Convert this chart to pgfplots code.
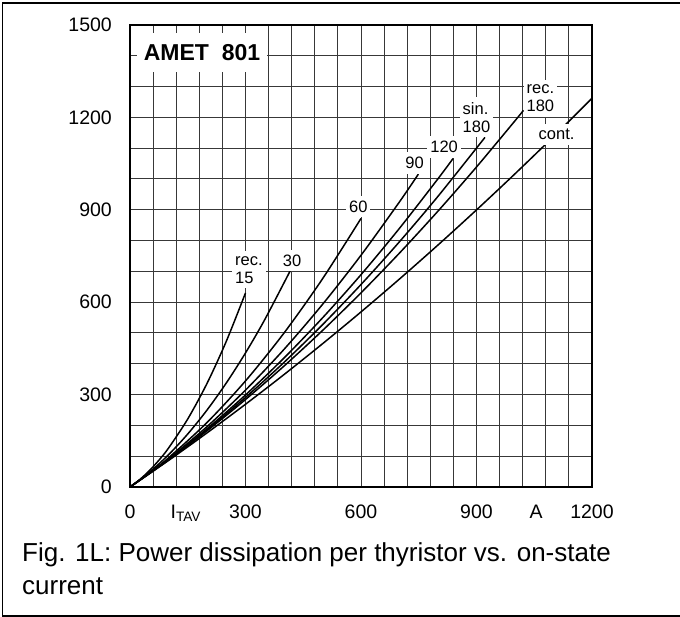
\documentclass[border=0pt]{standalone}
\usepackage{fontspec}
\setmainfont{Liberation Sans}
\usepackage{pgfplots}
\pgfplotsset{compat=1.18}
\begin{document}
\begin{tikzpicture}[
  curve/.style={black, line width=1.5pt, smooth, mark=none},
  lbl/.style={fill=white, inner xsep=3pt, inner ysep=5pt, align=left, font=\fontsize{16.5}{18}\selectfont},
]
\path[use as bounding box] (0pt,0pt) rectangle (680pt,617pt);
\draw[line width=1.5pt] (681pt,614pt) -- (2.5pt,614pt) -- (2.5pt,1pt) -- (681pt,1pt);
\begin{axis}[
  at={(130pt,130pt)}, anchor=south west,
  scale only axis, width=462pt, height=462pt,
  xmin=0, xmax=1200, ymin=0, ymax=1500,
  xtick={0,300,...,1200}, ytick={0,300,...,1500},
  minor x tick num=4, minor y tick num=2,
  grid=both,
  major grid style={line width=1pt, draw=black!78},
  minor grid style={line width=1pt, draw=black!78},
  major tick length=0pt, minor tick length=0pt,
  axis line style={line width=1.8pt},
  tick label style={font=\fontsize{19.5}{21}\selectfont, inner sep=0pt},
  yticklabel style={xshift=-18pt},
  xticklabel style={yshift=-17.5pt},
  /pgf/number format/assume math mode=true,
  /pgf/number format/1000 sep={},
  extra x ticks={145,1055},
  extra x tick labels={I\textsubscript{TAV},A},
  extra x tick style={grid=none},
]
% cont.
\addplot[curve] coordinates {(0,0) (100,86.0) (200,175.6) (300,268.6) (400,365.0) (500,465.0) (600,568.4) (700,675.3) (800,785.7) (900,899.6) (1000,1016.9) (1100,1137.7) (1200,1262.0)};
% rec. 180
\addplot[curve] coordinates {(0,0) (100,87.8) (200,182.4) (300,284.0) (400,392.6) (500,508.0) (600,630.4) (700,759.6) (800,895.8) (900,1039.0) (1000,1189.0) (1022,1222.9)};
% sin. 180
\addplot[curve] coordinates {(0,0) (100,88.5) (200,185.4) (300,290.8) (400,404.6) (500,526.8) (600,657.4) (700,796.4) (800,943.8) (922,1135.1)};
% 120
\addplot[curve] coordinates {(0,0) (100,89.4) (200,189.0) (300,298.8) (400,418.8) (500,549.0) (600,689.4) (700,840.0) (800,1000.8) (839,1066.3)};
% 90
\addplot[curve] coordinates {(0,0) (100,91.2) (200,196.0) (300,314.6) (400,446.8) (500,592.8) (600,752.4) (700,925.8) (749,1015.7)};
% 60
\addplot[curve] coordinates {(0,0) (50,44.7) (100,94.5) (200,209.3) (300,344.4) (400,499.9) (500,675.8) (600,871.9)};
% 30
\addplot[curve] coordinates {(0,0) (50,47.3) (100,104.6) (150,172.1) (200,249.7) (250,337.5) (300,435.3) (350,543.4) (417,704.0)};
% rec. 15
\addplot[curve] coordinates {(0,0) (25,23.7) (50,52.7) (75,86.8) (100,126.2) (150,220.8) (200,336.2) (250,472.7) (300,630.0)};

\node[lbl] at (axis cs:309,705) {rec.\\15};
\node[lbl] at (axis cs:421,735) {30};
\node[lbl] at (axis cs:593,911) {60};
\node[lbl] at (axis cs:739,1052) {90};
\node[lbl] at (axis cs:816,1104) {120};
\node[lbl] at (axis cs:900,1200) {sin.\\180};
\node[lbl] at (axis cs:1066,1262) {rec.\\180};
\node[lbl] at (axis cs:1108,1145) {cont.};
\node[fill=white, inner sep=0pt, minimum width=130pt, minimum height=39pt, font=\fontsize{23}{25}\selectfont\bfseries] at (axis cs:187,1411) {AMET\ \ 801};
\node[anchor=base, xshift=-37pt, font=\fontsize{19.5}{21}\selectfont, inner sep=0pt] at (axis cs:0,1278) {W};
\node[anchor=base, xshift=-31pt, font=\fontsize{19.5}{21}\selectfont, inner sep=0pt] at (axis cs:0,166) {P\textsubscript{TAV}};
\end{axis}
\node[anchor=base west, inner sep=0pt, font=\fontsize{26}{30}\selectfont] at (22pt,55.3pt) {Fig. 1L: Power dissipation per thyristor vs. on-state};
\node[anchor=base west, inner sep=0pt, font=\fontsize{26}{30}\selectfont] at (22pt,22pt) {current};
\end{tikzpicture}
\end{document}
